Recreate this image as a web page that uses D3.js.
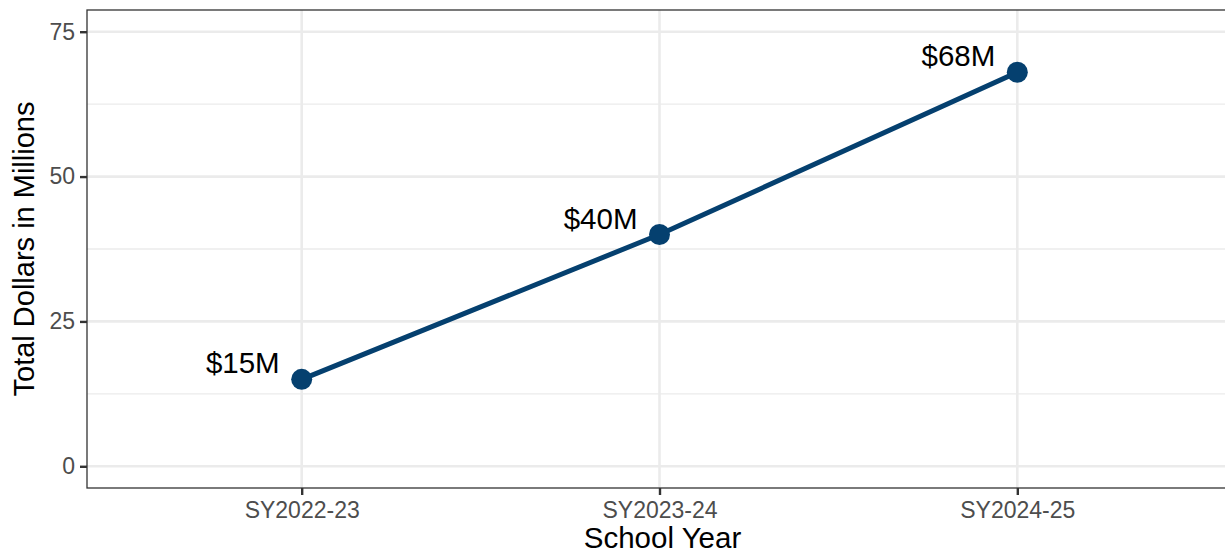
<!DOCTYPE html>
<html>
<head>
<meta charset="utf-8">
<script src="https://cdn.jsdelivr.net/npm/d3@7"></script>
<style>
  body { margin: 0; background: #fff; }
  svg { display: block; font-family: "Liberation Sans", Arial, sans-serif; }
</style>
</head>
<body>
<div id="chart"></div>
<script>
// School year totals (millions of dollars)
const schoolYears = ["SY2022-23", "SY2023-24", "SY2024-25"];
const totals = [15, 40, 68];
const labels = ["$15M", "$40M", "$68M"];
const yTicks = [0, 25, 50, 75];
const yMinorTicks = [12.5, 37.5, 62.5];

const width = 1225;
const height = 553;
const panel = { left: 87, top: 10, right: 1232, bottom: 488 };
const lineColor = "#05406f";

const svg = d3
  .select("#chart")
  .append("svg")
  .attr("width", width)
  .attr("height", height);

// discrete x scale with ggplot-style 0.6 expansion
const x = d3
  .scalePoint()
  .domain(schoolYears)
  .range([panel.left, panel.right])
  .padding(0.6);

const y = d3
  .scaleLinear()
  .domain([-3.75, 78.75])
  .range([panel.bottom, panel.top]);

const grid = svg.append("g");

grid
  .selectAll("line.minor")
  .data(yMinorTicks)
  .enter()
  .append("line")
  .attr("x1", panel.left)
  .attr("x2", panel.right)
  .attr("y1", (d) => y(d))
  .attr("y2", (d) => y(d))
  .attr("stroke", "#ebebeb")
  .attr("stroke-width", 1.3);

grid
  .selectAll("line.major-y")
  .data(yTicks)
  .enter()
  .append("line")
  .attr("x1", panel.left)
  .attr("x2", panel.right)
  .attr("y1", (d) => y(d))
  .attr("y2", (d) => y(d))
  .attr("stroke", "#ebebeb")
  .attr("stroke-width", 2.6);

grid
  .selectAll("line.major-x")
  .data(schoolYears)
  .enter()
  .append("line")
  .attr("x1", (d) => x(d))
  .attr("x2", (d) => x(d))
  .attr("y1", panel.top)
  .attr("y2", panel.bottom)
  .attr("stroke", "#ebebeb")
  .attr("stroke-width", 2.6);

// data line + points
const data = schoolYears.map((s, i) => ({ year: s, total: totals[i], label: labels[i] }));

svg
  .append("path")
  .datum(data)
  .attr("fill", "none")
  .attr("stroke", lineColor)
  .attr("stroke-width", 5)
  .attr("d", d3.line().x((d) => x(d.year)).y((d) => y(d.total)));

svg
  .selectAll("circle.pt")
  .data(data)
  .enter()
  .append("circle")
  .attr("cx", (d) => x(d.year))
  .attr("cy", (d) => y(d.total))
  .attr("r", 10.5)
  .attr("fill", lineColor);

svg
  .selectAll("text.lbl")
  .data(data)
  .enter()
  .append("text")
  .attr("x", (d) => x(d.year) - 22)
  .attr("y", (d) => y(d.total) - 6)
  .attr("text-anchor", "end")
  .attr("font-size", 29.5)
  .attr("fill", "#000")
  .text((d) => d.label);

// panel border
svg
  .append("rect")
  .attr("x", panel.left)
  .attr("y", panel.top)
  .attr("width", panel.right - panel.left)
  .attr("height", panel.bottom - panel.top)
  .attr("fill", "none")
  .attr("stroke", "#333333")
  .attr("stroke-width", 1.3);

// axes
const yAxis = svg
  .append("g")
  .attr("transform", `translate(${panel.left},0)`)
  .call(d3.axisLeft(y).tickValues(yTicks).tickSize(7).tickPadding(5));

const xAxis = svg
  .append("g")
  .attr("transform", `translate(0,${panel.bottom})`)
  .call(d3.axisBottom(x).tickSize(7).tickPadding(5));

[xAxis, yAxis].forEach((ax) => {
  ax.select(".domain").remove();
  ax.selectAll(".tick line").attr("stroke", "#333333").attr("stroke-width", 2.4);
  ax.selectAll(".tick text")
    .attr("fill", "#4d4d4d")
    .attr("font-size", 23)
    .attr("font-family", "Liberation Sans, Arial, sans-serif");
});
xAxis.selectAll(".tick text").attr("dy", "0.8em");

// axis titles
svg
  .append("text")
  .attr("x", (panel.left + panel.right) / 2 + 3)
  .attr("y", 548)
  .attr("text-anchor", "middle")
  .attr("font-size", 29.5)
  .attr("fill", "#000")
  .text("School Year");

svg
  .append("text")
  .attr("transform", `translate(34,${(panel.top + panel.bottom) / 2}) rotate(-90)`)
  .attr("text-anchor", "middle")
  .attr("font-size", 29)
  .attr("fill", "#000")
  .text("Total Dollars in Millions");
</script>
</body>
</html>
